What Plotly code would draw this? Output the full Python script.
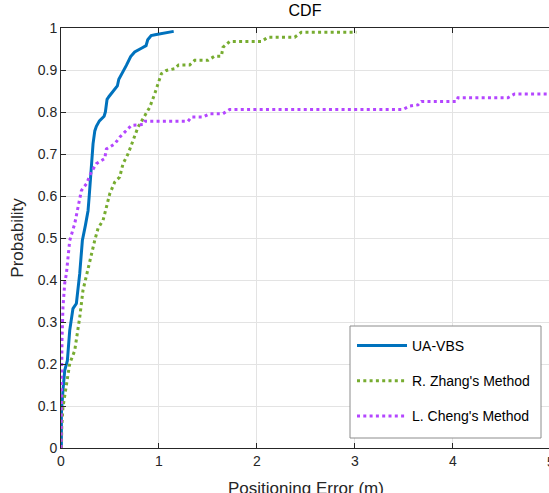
import plotly.graph_objects as go

# Empirical CDF of positioning error for each method
ua_vbs_err = [0.004, 0.004, 0.020, 0.038, 0.065, 0.089, 0.122, 0.157, 0.191, 0.218,
              0.249, 0.276, 0.288, 0.300, 0.310, 0.327, 0.345, 0.361, 0.392, 0.440,
              0.453, 0.470, 0.490, 0.520, 0.540, 0.575, 0.590, 0.620, 0.667, 0.711,
              0.752, 0.830, 0.868, 0.885, 0.920, 0.960, 1.150]
ua_vbs_prob = [0.0, 0.082, 0.137, 0.185, 0.208, 0.280, 0.332, 0.344, 0.415, 0.494,
               0.530, 0.565, 0.600, 0.640, 0.665, 0.724, 0.755, 0.766, 0.779, 0.790,
               0.800, 0.830, 0.837, 0.845, 0.852, 0.862, 0.878, 0.890, 0.911, 0.932,
               0.943, 0.953, 0.958, 0.972, 0.982, 0.984, 0.992]

zhang_err = [0.004, 0.008, 0.020, 0.040, 0.055, 0.070, 0.089, 0.140, 0.165, 0.191,
             0.224, 0.276, 0.344, 0.378, 0.429, 0.463, 0.497, 0.548, 0.599, 0.633,
             0.684, 0.735, 0.786, 0.837, 0.905, 0.956, 0.990, 1.024, 1.076, 1.160,
             1.200, 1.313, 1.364, 1.500, 1.568, 1.637, 1.653, 1.721, 2.045, 2.112,
             2.385, 2.453, 3.014]
zhang_prob = [0.0, 0.050, 0.097, 0.130, 0.154, 0.180, 0.201, 0.232, 0.270, 0.311,
              0.375, 0.430, 0.494, 0.523, 0.542, 0.573, 0.605, 0.633, 0.645, 0.677,
              0.700, 0.732, 0.764, 0.784, 0.811, 0.843, 0.867, 0.891, 0.899, 0.903,
              0.912, 0.912, 0.923, 0.923, 0.933, 0.933, 0.954, 0.968, 0.968, 0.978,
              0.978, 0.990, 0.990]

cheng_err = [0.0, 0.004, 0.010, 0.020, 0.038, 0.055, 0.089, 0.140, 0.173, 0.208,
             0.259, 0.310, 0.361, 0.446, 0.463, 0.548, 0.599, 0.667, 0.718, 0.837,
             0.854, 1.296, 1.331, 1.449, 1.517, 1.653, 1.721, 3.490, 3.557, 3.643,
             3.678, 4.035, 4.051, 4.561, 4.629, 5.0]
cheng_prob = [0.0, 0.137, 0.256, 0.335, 0.392, 0.415, 0.494, 0.534, 0.573, 0.613,
              0.629, 0.657, 0.677, 0.689, 0.712, 0.724, 0.740, 0.756, 0.768, 0.770,
              0.778, 0.778, 0.788, 0.788, 0.796, 0.796, 0.806, 0.806, 0.814, 0.817,
              0.825, 0.825, 0.834, 0.834, 0.843, 0.843]

x_ticks = [0, 1, 2, 3, 4]
y_ticks = [round(0.1 * i, 1) for i in range(11)]
y_tick_text = ["0"] + [f"{v:g}" for v in y_ticks[1:]]

FONT = "Liberation Sans, Arial, sans-serif"
AXIS_COLOR = "#262626"

W, H = 549, 493
ML, MR, MT, MB = 61, 0, 28, 45
PW, PH = W - ML - MR, H - MT - MB


def px_to_paper(px, py):
    """Convert page pixel coordinates to paper coordinates of the axes."""
    return (px - ML) / PW, (H - MB - py) / PH


fig = go.Figure()
fig.add_trace(go.Scatter(x=ua_vbs_err, y=ua_vbs_prob, mode="lines", name="UA-VBS",
                         legendgroup="a",
                         line=dict(color="#0072BD", width=3)))
fig.add_trace(go.Scatter(x=zhang_err, y=zhang_prob, mode="lines", name="R. Zhang's Method",
                         legendgroup="b",
                         line=dict(color="#77AC30", width=3, dash="3px,3.3px")))
fig.add_trace(go.Scatter(x=cheng_err, y=cheng_prob, mode="lines", name="L. Cheng's Method",
                         legendgroup="c",
                         line=dict(color="#B446FF", width=3, dash="3px,3.3px")))

x_max = 4.98

# legend frame
bx0, by0 = px_to_paper(350, 438)
bx1, by1 = px_to_paper(541, 326)
lx, ly = px_to_paper(352, 330)

fig.update_layout(
    width=W, height=H,
    margin=dict(l=ML, r=MR, t=MT, b=MB),
    paper_bgcolor="white", plot_bgcolor="white",
    font=dict(family=FONT, size=14, color=AXIS_COLOR),
    title=dict(text="CDF", x=0.5, xref="paper", y=1, yref="container", yanchor="top",
               pad=dict(t=5), font=dict(size=16, color="black")),
    xaxis=dict(range=[0, x_max], tickvals=x_ticks, ticks="inside", ticklen=5,
               tickcolor=AXIS_COLOR, showline=True, linecolor=AXIS_COLOR, linewidth=1,
               mirror="ticks", showgrid=True, gridcolor="#e3e3e3", gridwidth=1,
               zeroline=False, tickfont=dict(size=14)),
    yaxis=dict(range=[0, 1], tickvals=y_ticks, ticktext=y_tick_text, ticks="inside",
               ticklen=5, tickcolor=AXIS_COLOR, showline=True, linecolor=AXIS_COLOR,
               linewidth=1, mirror=False, showgrid=True, gridcolor="#e3e3e3", gridwidth=1,
               zeroline=False, tickfont=dict(size=14),
               title=dict(text="Probability", font=dict(size=17), standoff=9)),
    legend=dict(x=lx, y=ly, xanchor="left", yanchor="top",
                bgcolor="rgba(0,0,0,0)", borderwidth=0,
                font=dict(size=14, color="black"), tracegroupgap=14,
                itemwidth=50),
    showlegend=True,
    shapes=[dict(type="rect", xref="paper", yref="paper", x0=bx0, x1=bx1, y0=by0, y1=by1,
                 line=dict(color="#8c8c8c", width=1), fillcolor="white", layer="above")],
)

# x-axis title, placed below the tick labels at the foot of the page
fig.add_annotation(x=0.5 * 5 / x_max, xref="paper", y=0, yref="paper", yshift=-40,
                   text="Positioning Error (m)", showarrow=False,
                   yanchor="middle", xanchor="center",
                   font=dict(size=17, color=AXIS_COLOR))

# tick label for x = 5 sits just past the visible edge of the axes
fig.add_annotation(x=5 / x_max, xref="paper", y=0, yref="paper", yshift=-4,
                   text="5", showarrow=False, yanchor="top", xanchor="center",
                   font=dict(size=14, color=AXIS_COLOR))

fig.write_html("out.html")
